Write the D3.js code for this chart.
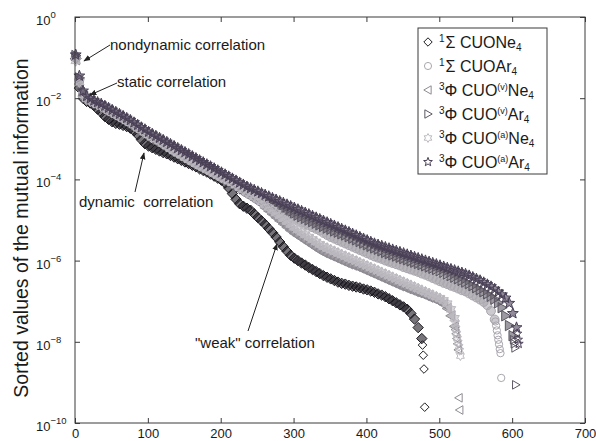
<!DOCTYPE html>
<html>
<head>
<meta charset="utf-8">
<script src="https://cdn.jsdelivr.net/npm/d3@7"></script>
<style>
  body { margin: 0; background: #fff; }
  svg { display: block; font-family: "Liberation Sans", Arial, Helvetica, sans-serif; }
</style>
</head>
<body>
<svg id="chart" width="596" height="441"></svg>
<script>
// ---------------------------------------------------------------------------
// Data: log10 of the sorted mutual-information values.
// Main arrays are sampled every RANK_STEP ranks starting at rank 1;
// the *Tail arrays hold the last few sorted values at consecutive ranks.
// ---------------------------------------------------------------------------
const RANK_STEP = 5;

const xTickValues = [0, 100, 200, 300, 400, 500, 600, 700];
const yTickExponents = [0, -2, -4, -6, -8, -10];

const singletNe4 = [
  -1.02, -1.75, -2.0, -2.08, -2.12, -2.18, -2.27, -2.35, -2.45, -2.52,
  -2.58, -2.62, -2.64, -2.67, -2.7, -2.74, -2.8, -2.9, -3.02, -3.12,
  -3.18, -3.22, -3.26, -3.3, -3.34, -3.37, -3.41, -3.45, -3.49, -3.53,
  -3.57, -3.61, -3.65, -3.69, -3.74, -3.78, -3.82, -3.87, -3.92, -3.97,
  -4.02, -4.09, -4.21, -4.35, -4.49, -4.6, -4.66, -4.71, -4.76, -4.85,
  -4.94, -5.02, -5.11, -5.21, -5.31, -5.42, -5.54, -5.66, -5.77, -5.87,
  -5.94, -6.0, -6.06, -6.11, -6.17, -6.22, -6.27, -6.32, -6.37, -6.41,
  -6.45, -6.49, -6.53, -6.56, -6.58, -6.61, -6.63, -6.65, -6.67, -6.7,
  -6.72, -6.75, -6.78, -6.82, -6.85, -6.89, -6.94, -6.99, -7.04, -7.09,
  -7.14, -7.2, -7.3, -7.44, -7.65, -7.92
];
const singletNe4Tail = [-8.08, -8.33, -8.67, -9.61];

const singletAr4 = [
  -0.98, -1.55, -1.9, -2.0, -2.05, -2.1, -2.14, -2.18, -2.24, -2.3,
  -2.35, -2.4, -2.45, -2.5, -2.56, -2.61, -2.67, -2.73, -2.79, -2.85,
  -2.91, -2.96, -3.01, -3.06, -3.12, -3.18, -3.23, -3.29, -3.34, -3.39,
  -3.44, -3.49, -3.54, -3.58, -3.62, -3.66, -3.71, -3.75, -3.79, -3.84,
  -3.88, -3.92, -3.97, -4.02, -4.07, -4.12, -4.17, -4.23, -4.29, -4.35,
  -4.41, -4.47, -4.53, -4.59, -4.65, -4.71, -4.77, -4.83, -4.88, -4.93,
  -4.98, -5.02, -5.06, -5.1, -5.14, -5.18, -5.22, -5.26, -5.32, -5.37,
  -5.42, -5.46, -5.5, -5.54, -5.58, -5.62, -5.66, -5.7, -5.74, -5.78,
  -5.82, -5.86, -5.9, -5.93, -5.96, -6.0, -6.03, -6.06, -6.09, -6.12,
  -6.16, -6.19, -6.22, -6.25, -6.28, -6.32, -6.35, -6.39, -6.43, -6.47,
  -6.51, -6.55, -6.58, -6.62, -6.65, -6.69, -6.73, -6.76, -6.81, -6.86,
  -6.91, -6.96, -7.02, -7.1, -7.24, -7.45
];
const singletAr4Tail = [-7.5, -7.6, -7.72, -7.84, -7.95, -8.06, -8.18, -8.28, -8.89];

const tripletVNe4 = [
  -1.05, -1.65, -1.95, -2.04, -2.09, -2.13, -2.17, -2.2, -2.27, -2.33,
  -2.38, -2.42, -2.47, -2.52, -2.57, -2.63, -2.69, -2.76, -2.82, -2.88,
  -2.94, -2.99, -3.04, -3.1, -3.16, -3.22, -3.28, -3.34, -3.39, -3.44,
  -3.5, -3.55, -3.61, -3.66, -3.71, -3.75, -3.8, -3.85, -3.9, -3.95,
  -4.0, -4.04, -4.08, -4.14, -4.2, -4.26, -4.32, -4.38, -4.43, -4.49,
  -4.55, -4.61, -4.7, -4.78, -4.86, -4.94, -5.02, -5.1, -5.18, -5.26,
  -5.33, -5.39, -5.45, -5.51, -5.57, -5.63, -5.69, -5.75, -5.8, -5.84,
  -5.88, -5.92, -5.96, -6.0, -6.04, -6.08, -6.11, -6.14, -6.18, -6.22,
  -6.26, -6.3, -6.34, -6.38, -6.42, -6.46, -6.5, -6.54, -6.58, -6.62,
  -6.65, -6.69, -6.72, -6.76, -6.79, -6.82, -6.86, -6.9, -6.93, -6.97,
  -7.01, -7.08, -7.18, -7.36, -7.62
];
const tripletVNe4Tail = [-7.7, -7.8, -7.92, -8.05, -8.2, -9.38, -9.68];

const tripletVAr4 = [
  -0.95, -1.5, -1.85, -1.97, -2.03, -2.08, -2.12, -2.16, -2.21, -2.26,
  -2.31, -2.36, -2.41, -2.46, -2.51, -2.56, -2.62, -2.68, -2.74, -2.79,
  -2.85, -2.9, -2.95, -3.0, -3.05, -3.1, -3.15, -3.2, -3.25, -3.3,
  -3.35, -3.4, -3.45, -3.5, -3.55, -3.6, -3.65, -3.7, -3.76, -3.82,
  -3.88, -3.94, -4.0, -4.06, -4.12, -4.18, -4.23, -4.28, -4.33, -4.38,
  -4.43, -4.48, -4.52, -4.56, -4.6, -4.64, -4.68, -4.72, -4.76, -4.8,
  -4.84, -4.88, -4.92, -4.96, -5.0, -5.04, -5.08, -5.12, -5.16, -5.2,
  -5.23, -5.27, -5.3, -5.34, -5.37, -5.41, -5.45, -5.49, -5.53, -5.57,
  -5.61, -5.65, -5.69, -5.72, -5.76, -5.8, -5.83, -5.86, -5.89, -5.92,
  -5.95, -5.98, -6.01, -6.04, -6.07, -6.1, -6.13, -6.16, -6.19, -6.22,
  -6.25, -6.29, -6.33, -6.37, -6.41, -6.45, -6.49, -6.53, -6.57, -6.62,
  -6.67, -6.72, -6.77, -6.82, -6.88, -6.95, -7.04, -7.16, -7.36, -7.6,
  -7.85
];
const tripletVAr4Tail = [-7.95, -8.05, -8.15, -9.06];

const tripletANe4 = [
  -1.08, -1.6, -1.92, -2.02, -2.07, -2.11, -2.15, -2.19, -2.25, -2.3,
  -2.35, -2.4, -2.45, -2.5, -2.55, -2.6, -2.66, -2.72, -2.78, -2.84,
  -2.9, -2.95, -3.0, -3.06, -3.12, -3.18, -3.24, -3.3, -3.35, -3.4,
  -3.46, -3.51, -3.56, -3.61, -3.66, -3.7, -3.75, -3.8, -3.85, -3.9,
  -3.95, -3.99, -4.03, -4.08, -4.14, -4.2, -4.26, -4.32, -4.37, -4.43,
  -4.49, -4.55, -4.62, -4.69, -4.76, -4.83, -4.9, -4.97, -5.04, -5.11,
  -5.18, -5.24, -5.3, -5.36, -5.42, -5.48, -5.54, -5.6, -5.65, -5.69,
  -5.73, -5.77, -5.81, -5.85, -5.89, -5.93, -5.97, -6.01, -6.05, -6.09,
  -6.13, -6.17, -6.21, -6.25, -6.29, -6.33, -6.37, -6.41, -6.45, -6.49,
  -6.53, -6.57, -6.61, -6.65, -6.69, -6.73, -6.77, -6.81, -6.85, -6.89,
  -6.93, -6.98, -7.06, -7.2, -7.42
];
const tripletANe4Tail = [-7.55, -7.68, -7.8, -7.92, -8.02, -8.12, -8.22, -8.35];

const tripletAAr4 = [
  -0.93, -1.45, -1.82, -1.95, -2.01, -2.06, -2.1, -2.14, -2.19, -2.24,
  -2.29, -2.34, -2.39, -2.44, -2.49, -2.54, -2.6, -2.66, -2.72, -2.77,
  -2.83, -2.88, -2.93, -2.98, -3.03, -3.08, -3.13, -3.18, -3.23, -3.28,
  -3.33, -3.38, -3.43, -3.48, -3.53, -3.58, -3.63, -3.68, -3.73, -3.78,
  -3.83, -3.88, -3.93, -3.98, -4.03, -4.08, -4.13, -4.18, -4.22, -4.26,
  -4.3, -4.34, -4.38, -4.42, -4.46, -4.5, -4.54, -4.58, -4.62, -4.66,
  -4.7, -4.74, -4.78, -4.82, -4.86, -4.9, -4.94, -4.98, -5.02, -5.06,
  -5.1, -5.14, -5.18, -5.22, -5.26, -5.3, -5.34, -5.38, -5.42, -5.46,
  -5.5, -5.54, -5.58, -5.61, -5.64, -5.67, -5.7, -5.73, -5.76, -5.79,
  -5.82, -5.85, -5.88, -5.91, -5.94, -5.97, -6.0, -6.03, -6.06, -6.09,
  -6.12, -6.15, -6.18, -6.21, -6.24, -6.27, -6.3, -6.33, -6.37, -6.41,
  -6.45, -6.49, -6.54, -6.59, -6.64, -6.7, -6.77, -6.84, -6.92, -7.05,
  -7.3, -7.65
];
const tripletAAr4Tail = [-7.8, -7.95, -8.05];

// Legend text pieces: [text, role] with role "sup", "sub" or "" (normal)
const legendLabels = [
  [["1", "sup"], ["\u03A3 CUONe", ""], ["4", "sub"]],
  [["1", "sup"], ["\u03A3 CUOAr", ""], ["4", "sub"]],
  [["3", "sup"], ["\u03A6 CUO", ""], ["(v)", "sup"], ["Ne", ""], ["4", "sub"]],
  [["3", "sup"], ["\u03A6 CUO", ""], ["(v)", "sup"], ["Ar", ""], ["4", "sub"]],
  [["3", "sup"], ["\u03A6 CUO", ""], ["(a)", "sup"], ["Ne", ""], ["4", "sub"]],
  [["3", "sup"], ["\u03A6 CUO", ""], ["(a)", "sup"], ["Ar", ""], ["4", "sub"]]
];

// Plot order (later series are drawn on top)
const seriesData = [
  { body: singletNe4, tail: singletNe4Tail },
  { body: singletAr4, tail: singletAr4Tail },
  { body: tripletVNe4, tail: tripletVNe4Tail },
  { body: tripletVAr4, tail: tripletVAr4Tail },
  { body: tripletANe4, tail: tripletANe4Tail },
  { body: tripletAAr4, tail: tripletAAr4Tail }
];

// ---------------------------------------------------------------------------
// Styles
// ---------------------------------------------------------------------------
const seriesStyle = [
  { symbol: "diamond",   color: "#1d1921" },
  { symbol: "circle",    color: "#aaa6ae" },
  { symbol: "triLeft",   color: "#8f8b93" },
  { symbol: "triRight",  color: "#5c5762" },
  { symbol: "hexagram",  color: "#bdb9c0" },
  { symbol: "pentagram", color: "#4a4056" }
];

function starPath(r, n, innerRatio) {
  const pts = [];
  for (let k = 0; k < 2 * n; k++) {
    const rr = k % 2 === 0 ? r : r * innerRatio;
    const a = -Math.PI / 2 + (k * Math.PI) / n;
    pts.push([rr * Math.cos(a), rr * Math.sin(a)]);
  }
  return "M" + pts.map(p => p[0].toFixed(2) + "," + p[1].toFixed(2)).join("L") + "Z";
}

const markerPath = {
  diamond: r => `M0,${-r}L${r},0L0,${r}L${-r},0Z`,
  circle: r => { const c = r * 0.85; return `M${c},0A${c},${c} 0 1,1 ${-c},0A${c},${c} 0 1,1 ${c},0Z`; },
  triLeft: r => `M${-r},0L${0.75 * r},${-r}L${0.75 * r},${r}Z`,
  triRight: r => `M${r},0L${-0.75 * r},${-r}L${-0.75 * r},${r}Z`,
  hexagram: r => starPath(r * 1.05, 6, 0.58),
  pentagram: r => starPath(r * 1.1, 5, 0.42)
};

// ---------------------------------------------------------------------------
// Layout and scales
// ---------------------------------------------------------------------------
const margin = { left: 75, top: 17, right: 585, bottom: 423 };
const svg = d3.select("#chart");
const textColor = "#1a1a1a";
const frameColor = "#3a3a3a";

const x = d3.scaleLinear().domain([0, 700]).range([margin.left, margin.right]);
const y = d3.scaleLog().domain([1e-10, 1]).range([margin.bottom, margin.top]);

function toPoints(body, tail) {
  const pts = body.map((v, i) => ({ rank: 1 + i * RANK_STEP, value: Math.pow(10, v), tail: false }));
  const lastRank = 1 + (body.length - 1) * RANK_STEP;
  tail.forEach((v, j) => pts.push({ rank: lastRank + 1 + j, value: Math.pow(10, v), tail: true }));
  return pts;
}

// ---------------------------------------------------------------------------
// Data markers: densely packed markers merge into shaded bands
// ---------------------------------------------------------------------------
const markerR = 5.2;
const plot = svg.append("g").attr("class", "markers");
seriesData.forEach((s, i) => {
  const st = seriesStyle[i];
  const d = markerPath[st.symbol](markerR);
  const dTail = markerPath[st.symbol](4.3);
  plot.append("g")
    .selectAll("path")
    .data(toPoints(s.body, s.tail))
    .join("path")
    .attr("d", p => (p.tail ? dTail : d))
    .attr("transform", p => `translate(${x(p.rank)},${y(p.value)})`)
    .attr("fill", p => (p.tail ? "none" : st.color))
    .attr("fill-opacity", 0.6)
    .attr("stroke", st.color)
    .attr("stroke-width", 1);
});

// ---------------------------------------------------------------------------
// Axes (box with inward ticks)
// ---------------------------------------------------------------------------
const yTickValues = yTickExponents.map(e => Math.pow(10, e));

const axisStyle = g => {
  g.select(".domain").remove();
  g.selectAll(".tick line").attr("stroke", frameColor).attr("stroke-width", 1);
  g.selectAll(".tick text").attr("fill", textColor).attr("font-size", 13)
    .attr("font-family", '"Liberation Sans", Arial, sans-serif');
};

svg.append("g")
  .attr("transform", `translate(0,${margin.bottom})`)
  .call(d3.axisBottom(x).tickValues(xTickValues).tickSizeInner(-5).tickSizeOuter(0).tickPadding(6))
  .call(axisStyle);

svg.append("g")
  .attr("transform", `translate(0,${margin.top})`)
  .call(d3.axisTop(x).tickValues(xTickValues).tickSizeInner(-5).tickSizeOuter(0).tickFormat(() => ""))
  .call(axisStyle);

svg.append("g")
  .attr("transform", `translate(${margin.left},0)`)
  .call(d3.axisLeft(y).tickValues(yTickValues).tickSizeInner(-5).tickSizeOuter(0).tickFormat(() => ""))
  .call(axisStyle);

svg.append("g")
  .attr("transform", `translate(${margin.right},0)`)
  .call(d3.axisRight(y).tickValues(yTickValues).tickSizeInner(-5).tickSizeOuter(0).tickFormat(() => ""))
  .call(axisStyle);

svg.append("rect")
  .attr("x", margin.left).attr("y", margin.top)
  .attr("width", margin.right - margin.left).attr("height", margin.bottom - margin.top)
  .attr("fill", "none").attr("stroke", frameColor).attr("stroke-width", 1);

// Power-of-ten tick labels
const yLabels = svg.append("g").attr("fill", textColor);
yTickExponents.forEach(e => {
  const t = yLabels.append("text")
    .attr("x", 36)
    .attr("y", y(Math.pow(10, e)) + 8)
    .attr("font-size", 13);
  t.append("tspan").text("10");
  t.append("tspan").attr("dy", -7).attr("font-size", 9.5)
    .text(e === 0 ? "0" : "\u2212" + Math.abs(e));
});

// Axis title
svg.append("text")
  .attr("transform", "translate(28,228) rotate(-90)")
  .attr("text-anchor", "middle")
  .attr("font-size", 19.5)
  .attr("fill", textColor)
  .text("Sorted values of the mutual information");

// ---------------------------------------------------------------------------
// Annotations with arrows
// ---------------------------------------------------------------------------
svg.append("defs").append("marker")
  .attr("id", "arrowhead")
  .attr("viewBox", "0 0 10 10")
  .attr("refX", 9).attr("refY", 5)
  .attr("markerWidth", 7).attr("markerHeight", 7)
  .attr("markerUnits", "userSpaceOnUse")
  .attr("orient", "auto")
  .append("path").attr("d", "M0,1L10,5L0,9Z").attr("fill", "#222");

const notes = [
  { text: "nondynamic correlation", tx: 110, ty: 50, from: [110, 45], to: [84, 61] },
  { text: "static correlation", tx: 117, ty: 87, from: [117, 83], to: [90, 95] },
  { text: "dynamic  correlation", tx: 79, ty: 207, from: [135, 192], to: [144, 153] },
  { text: "\"weak\" correlation", tx: 195, ty: 348, from: [248, 331], to: [277, 244] }
];
const noteG = svg.append("g");
notes.forEach(n => {
  noteG.append("line")
    .attr("x1", n.from[0]).attr("y1", n.from[1])
    .attr("x2", n.to[0]).attr("y2", n.to[1])
    .attr("stroke", "#222").attr("stroke-width", 1)
    .attr("marker-end", "url(#arrowhead)");
  noteG.append("text")
    .attr("x", n.tx).attr("y", n.ty)
    .attr("font-size", 15)
    .attr("fill", textColor)
    .style("white-space", "pre")
    .text(n.text);
});

// ---------------------------------------------------------------------------
// Legend
// ---------------------------------------------------------------------------
const legend = svg.append("g");
legend.append("rect")
  .attr("x", 418).attr("y", 28).attr("width", 129).attr("height", 146)
  .attr("fill", "#fff").attr("stroke", frameColor).attr("stroke-width", 1);

legendLabels.forEach((parts, i) => {
  const cy = 42 + i * 24;
  const st = seriesStyle[i];
  legend.append("path")
    .attr("d", markerPath[st.symbol](4.2))
    .attr("transform", `translate(428,${cy})`)
    .attr("fill", "none")
    .attr("stroke", st.color)
    .attr("stroke-width", 1);

  const t = legend.append("text")
    .attr("x", 439).attr("y", cy + 6)
    .attr("font-size", 16)
    .attr("fill", textColor);
  let shift = 0;
  parts.forEach(([txt, role]) => {
    let target = 0, size = 16;
    if (role === "sup") { target = -6; size = txt.length > 1 ? 9 : 10; }
    if (role === "sub") { target = 3; size = 10; }
    t.append("tspan")
      .attr("dy", target - shift)
      .attr("font-size", size)
      .attr("dx", role === "" && txt.startsWith("\u03A3") ? 1 : 0)
      .text(txt);
    shift = target;
  });
});
</script>
</body>
</html>
